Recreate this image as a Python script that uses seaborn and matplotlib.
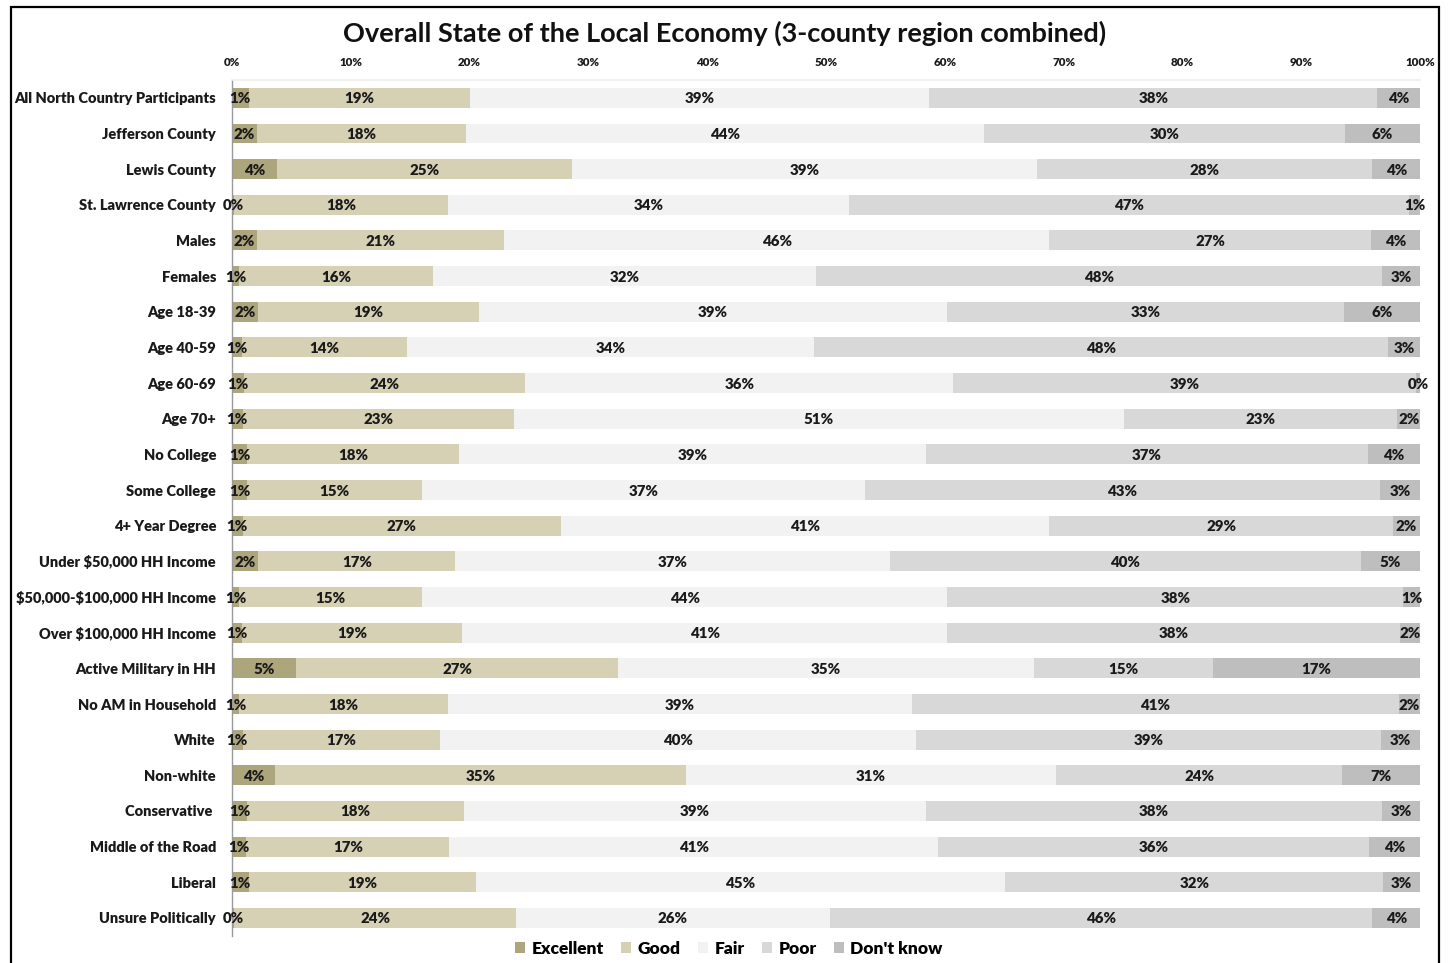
import matplotlib
matplotlib.use("Agg")
import matplotlib.pyplot as plt
from matplotlib.patches import Rectangle
import numpy as np
import pandas as pd
import seaborn as sns

plt.rcParams["font.family"] = ["Lato", "DejaVu Sans"]
plt.rcParams["font.weight"] = "bold"
plt.rcParams["text.parse_math"] = False

HEAVY = "heavy"

categories = [
    "All North Country Participants", "Jefferson County", "Lewis County",
    "St. Lawrence County", "Males", "Females", "Age 18-39", "Age 40-59",
    "Age 60-69", "Age 70+", "No College", "Some College", "4+ Year Degree",
    "Under $50,000 HH Income", "$50,000-$100,000 HH Income",
    "Over $100,000 HH Income", "Active Military in HH", "No AM in Household",
    "White", "Non-white", "Conservative ", "Middle of the Road", "Liberal",
    "Unsure Politically",
]

excellent = [1.4, 2.1, 3.8, 0.2, 2.1, 0.6, 2.2, 0.8, 1.0, 0.9, 1.3, 1.3,
             0.9, 2.2, 0.6, 0.8, 5.4, 0.6, 0.9, 3.6, 1.3, 1.2, 1.4, 0.2]
good = [18.6, 17.6, 24.8, 18.0, 20.8, 16.3, 18.6, 13.9, 23.7, 22.8, 17.8, 14.7,
        26.8, 16.6, 15.4, 18.6, 27.1, 17.6, 16.6, 34.6, 18.2, 17.1, 19.1, 23.7]
fair = [38.7, 43.6, 39.2, 33.7, 45.9, 32.3, 39.4, 34.3, 36.0, 51.4, 39.3, 37.3,
        41.1, 36.6, 44.2, 40.8, 35.0, 39.0, 40.1, 31.2, 38.9, 41.1, 44.6, 26.4]
poor = [37.7, 30.4, 28.2, 47.2, 27.1, 47.6, 33.4, 48.3, 39.0, 23.0, 37.2, 43.3,
        28.9, 39.6, 38.4, 38.1, 15.1, 41.0, 39.1, 24.0, 38.4, 36.3, 31.8, 45.7]
dont_know = [3.6, 6.3, 4.0, 0.9, 4.1, 3.2, 6.4, 2.7, 0.3, 1.9, 4.4, 3.4,
             2.3, 5.0, 1.4, 1.7, 17.4, 1.8, 3.3, 6.6, 3.2, 4.3, 3.1, 4.0]

series_names = ["Excellent", "Good", "Fair", "Poor", "Don't know"]
series_colors = ["#ada57b", "#d6d0b4", "#f2f2f2", "#d8d8d8", "#bebebe"]
tick_values = list(range(0, 101, 10))
tick_labels = [f"{v}%" for v in tick_values]

df = pd.DataFrame({
    "category": categories,
    "Excellent": excellent,
    "Good": good,
    "Fair": fair,
    "Poor": poor,
    "Don't know": dont_know,
})
cum = df[series_names].cumsum(axis=1)
starts = cum - df[series_names]

W, H = 1449, 963
fig = plt.figure(figsize=(W / 100, H / 100), dpi=100)
ax = fig.add_axes([232 / W, 1 - 935.8 / H, 1188 / W, (935.8 - 80) / H])

# stacked bars: draw cumulative totals from the rightmost segment back to the first
for name, color in reversed(list(zip(series_names, series_colors))):
    sns.barplot(
        x=cum[name], y=df["category"], order=categories, orient="h",
        color=color, saturation=1, width=0.56, errorbar=None,
        linewidth=0, ax=ax,
    )

# segment value labels
for name in series_names:
    for i in range(len(categories)):
        v = df.loc[i, name]
        xc = starts.loc[i, name] + v / 2
        ax.text(xc, i, f"{v:.0f}%", ha="center", va="center_baseline",
                fontsize=10.8, fontweight=HEAVY, color="#1a1a1a")

ax.set_xlim(0, 100)
ax.set_ylim(len(categories) - 0.5, -0.5)
ax.set_xlabel("")
ax.set_ylabel("")
ax.xaxis.tick_top()
ax.set_xticks(tick_values)
ax.set_xticklabels(tick_labels, fontsize=8.3, fontweight=HEAVY)
ax.set_yticks(range(len(categories)))
ax.set_yticklabels(categories, fontsize=10.5, fontweight=HEAVY)
ax.tick_params(axis="x", length=0, pad=9, colors="#1a1a1a")
ax.tick_params(axis="y", length=0, pad=11.5, colors="#1a1a1a")

for side in ["right", "bottom"]:
    ax.spines[side].set_visible(False)
ax.spines["top"].set_color("#eeeeee")
ax.spines["top"].set_linewidth(1.2)
ax.spines["left"].set_color("#9a9a9a")
ax.spines["left"].set_linewidth(1.0)

fig.text(0.5, 1 - 33 / H, "Overall State of the Local Economy (3-county region combined)",
         ha="center", va="center", fontsize=19.5, fontweight="bold", color="#111111")

handles = [Rectangle((0, 0), 1, 1, facecolor=c, edgecolor="none") for c in series_colors]
fig.legend(handles, series_names, loc="center", bbox_to_anchor=(0.503, 1 - 949 / H),
           ncol=5, frameon=False, handlelength=0.6, handleheight=0.6,
           handletextpad=0.35, columnspacing=1.0, prop={"weight": HEAVY, "size": 12.5})

# frame around the whole figure
fig.add_artist(Rectangle((11 / W, -0.05), (1439 - 11) / W, 1 - 7 / H + 0.05,
                         transform=fig.transFigure, fill=False,
                         edgecolor="black", linewidth=1.6))

fig.savefig("out.png", dpi=100)
